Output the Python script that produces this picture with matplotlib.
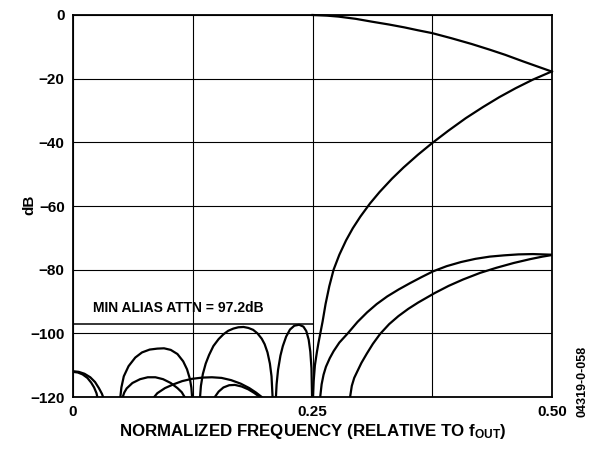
import matplotlib.pyplot as plt

plt.rcParams['font.family'] = ['Liberation Sans', 'DejaVu Sans']
plt.rcParams['font.weight'] = 'bold'
plt.rcParams['mathtext.fontset'] = 'custom'
plt.rcParams['mathtext.rm'] = 'Liberation Sans:bold'
plt.rcParams['mathtext.it'] = 'Liberation Sans:bold'
plt.rcParams['mathtext.bf'] = 'Liberation Sans:bold'

# passband droop
pass_f = [0.25, 0.265, 0.277, 0.295, 0.312, 0.33, 0.346, 0.36, 0.375, 0.395,
          0.416, 0.435, 0.451, 0.47, 0.485, 0.5]
pass_db = [0.0, -0.2, -0.5, -1.2, -2.1, -3.0, -3.9, -4.8, -5.7, -7.3,
           -9.1, -10.9, -12.5, -14.6, -16.2, -17.8]

# image rising into -18 dB at 0.5
img_f = [0.2505, 0.2512, 0.2525, 0.2545, 0.2562, 0.258, 0.2605, 0.2636, 0.2675,
         0.272, 0.278, 0.285, 0.292, 0.3, 0.31, 0.32, 0.333, 0.345, 0.36, 0.375,
         0.392, 0.41, 0.428, 0.445, 0.462, 0.48, 0.5]
img_db = [-120, -115, -110, -106, -103, -100.2, -96.3, -90.8, -85.2,
          -80, -75.3, -70.8, -67, -63.3, -59.2, -55.6, -51.4, -47.9, -43.9, -40.2,
          -36.3, -32.4, -28.9, -25.8, -23, -20.3, -17.7]

# two curves ending at -75 dB
up_f = [0.258, 0.2595, 0.2615, 0.264, 0.268, 0.272, 0.278, 0.2868, 0.297, 0.307,
        0.317, 0.328, 0.34, 0.352, 0.364, 0.376, 0.39, 0.405, 0.42, 0.435,
        0.45, 0.465, 0.48, 0.5]
up_db = [-120, -116, -113, -110.5, -107.8, -105.6, -102.9, -100, -96.4, -93.4,
         -90.8, -88.4, -86.2, -84.2, -82.3, -80.5, -78.9, -77.6, -76.6, -75.9,
         -75.5, -75.2, -75.1, -75.3]
lo_f = [0.2892, 0.291, 0.2935, 0.2962, 0.301, 0.3066, 0.313, 0.3205, 0.33,
        0.3396, 0.35, 0.3604, 0.3778, 0.392, 0.407, 0.425, 0.442, 0.46, 0.477,
        0.49, 0.5]
lo_db = [-120, -116.5, -114, -112.3, -109.3, -106.4, -103.3, -100.2, -97.1,
         -94.6, -92.3, -90.3, -87.3, -85.1, -83.1, -81, -79.4, -77.9, -76.7,
         -75.9, -75.4]

# stopband lobes
lobes = [
    ([0, 0.005, 0.01, 0.015, 0.019, 0.022, 0.0245, 0.0254],
     [-112.1, -112.3, -112.9, -114, -115.5, -117, -118.8, -120]),
    ([0, 0.006, 0.012, 0.018, 0.023, 0.027, 0.0302, 0.0314],
     [-111.9, -112.1, -112.7, -113.8, -115.3, -117.2, -119, -120]),
    ([0.0494, 0.0505, 0.053, 0.058, 0.065, 0.072, 0.08, 0.088, 0.095, 0.102,
      0.109, 0.115, 0.119, 0.122, 0.1235, 0.1243],
     [-120, -117, -113.5, -110.3, -107.6, -106, -105.1, -104.8, -104.7, -105.2,
      -106.5, -108.8, -111.3, -114.3, -117, -120]),
    ([0.0519, 0.0535, 0.056, 0.062, 0.07, 0.078, 0.086, 0.094, 0.102, 0.109,
      0.1135, 0.1165],
     [-120, -118.6, -117.3, -115.6, -114.4, -113.8, -113.8, -114.4, -115.6,
      -117.2, -118.5, -120]),
    ([0.0847, 0.088, 0.096, 0.105, 0.114, 0.124, 0.135, 0.145, 0.155, 0.165,
      0.175, 0.184, 0.191, 0.197],
     [-120, -118.8, -117.2, -116, -115, -114.3, -113.9, -113.8, -114, -114.7,
      -115.8, -117.2, -118.6, -120]),
    ([0.148, 0.152, 0.157, 0.163, 0.169, 0.176, 0.183, 0.189, 0.195],
     [-120, -118.3, -117, -116.3, -116.2, -116.7, -117.6, -118.7, -120]),
    ([0.1326, 0.1335, 0.1355, 0.1385, 0.142, 0.1465, 0.152, 0.157, 0.162,
      0.1674, 0.1725, 0.178, 0.183, 0.188, 0.1925, 0.197, 0.2, 0.203, 0.2055,
      0.2072, 0.2083],
     [-120, -116.5, -112.8, -109.5, -106.8, -104, -101.8, -100.3, -99.2,
      -98.5, -98.1, -98, -98.3, -98.9, -100, -101.7, -103.4, -106, -109.5,
      -113.5, -120]),
    ([0.2118, 0.2125, 0.214, 0.2165, 0.219, 0.2225, 0.2265, 0.231, 0.236,
      0.2405, 0.2435, 0.246, 0.2477, 0.2489, 0.2495],
     [-120, -116, -111.5, -107, -104, -101, -98.8, -97.6, -97.3, -97.9,
      -99.3, -102, -105.8, -111, -120]),
]

min_attn = -97.2

fig = plt.figure(figsize=(5.97, 4.49), dpi=100)
ax = fig.add_axes([0.1223, 0.1158, 0.8024, 0.8508])

ax.set_xlim(0, 0.5)
ax.set_ylim(-120, 0)
ax.set_xticks([0, 0.125, 0.25, 0.375, 0.5])
ax.set_xticklabels(['0', '', '0.25', '', '0.50'])
ax.set_yticks(range(-120, 1, 20))
ax.set_yticklabels(['\u2212120', '\u2212100', '\u221280', '\u221260', '\u221240',
                    '\u221220', '0'])
ax.tick_params(length=0, labelsize=11)
ax.tick_params(axis='y', pad=6)
ax.tick_params(axis='x', pad=6)
ax.grid(True, color='black', linewidth=0.8)
for s in ax.spines.values():
    s.set_linewidth(1.3)

lw = 1.6
ax.plot(pass_f, pass_db, color='black', lw=lw, clip_on=False)
ax.plot(img_f, img_db, color='black', lw=lw)
ax.plot(up_f, up_db, color='black', lw=lw)
ax.plot(lo_f, lo_db, color='black', lw=lw)
for f, d in lobes:
    ax.plot(f, d, color='black', lw=lw)

ax.plot([0, 0.25], [min_attn, min_attn], color='black', lw=1.1)
ax.text(0.021, -91.9, 'MIN ALIAS ATTN = 97.2dB', fontsize=10, va='center',
        ha='left', fontweight='bold')

fig.text(0.049, 0.543, 'dB', rotation=90, fontsize=11, fontweight='bold',
         ha='center', va='center')
fig.text(0.524, 0.040, r'NORMALIZED FREQUENCY (RELATIVE TO $f_{OUT}$)',
         fontsize=12.2, fontweight='bold', ha='center', va='center')
fig.text(0.9765, 0.150, '04319-0-058', rotation=90, fontsize=9,
         fontweight='bold', ha='center', va='center')

fig.savefig('out.png', dpi=100)
